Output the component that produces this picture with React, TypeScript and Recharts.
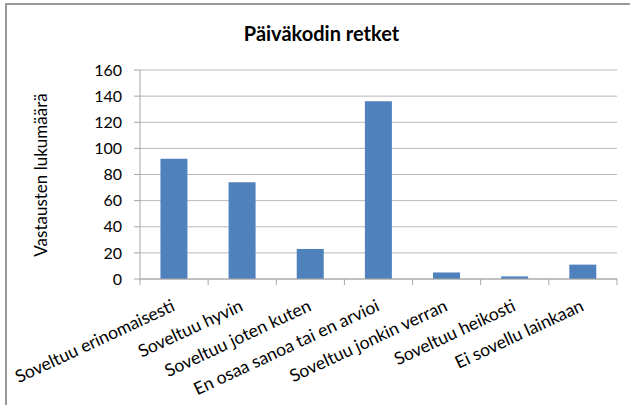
import React from "react";
import { BarChart, Bar, XAxis, YAxis, CartesianGrid } from "recharts";

const categories = [
  "Soveltuu erinomaisesti",
  "Soveltuu hyvin",
  "Soveltuu joten kuten",
  "En osaa sanoa tai en arvioi",
  "Soveltuu jonkin verran",
  "Soveltuu heikosti",
  "Ei sovellu lainkaan",
];
const counts = [92, 74, 23, 136, 5, 2, 11];
const yTicks = [0, 20, 40, 60, 80, 100, 120, 140, 160];
const title = "Päiväkodin retket";
const yLabel = "Vastausten lukumäärä";

const data = categories.map((name, i) => ({ name, value: counts[i] }));

const FONT = "Lato, 'Open Sans', sans-serif";
const AXIS_COLOR = "#a6a6a6";
const TICK_SIZE = 6;

const XTick = (props: any) => {
  const { x, y, payload, index, width, visibleTicksCount } = props;
  const half =
    payload && typeof payload.offset === "number" && payload.offset > 0
      ? payload.offset
      : width / visibleTicksCount / 2;
  const axisY = y - TICK_SIZE;
  const tx = x + 2;
  const ty = axisY + 31;
  return (
    <g>
      <line x1={x - half} x2={x - half} y1={axisY} y2={axisY + TICK_SIZE} stroke={AXIS_COLOR} />
      {index === visibleTicksCount - 1 && (
        <line x1={x + half} x2={x + half} y1={axisY} y2={axisY + TICK_SIZE} stroke={AXIS_COLOR} />
      )}
      <text
        x={tx}
        y={ty}
        textAnchor="end"
        fill="#000"
        fontSize={17.5}
        fontFamily={FONT}
        transform={`rotate(-25 ${tx} ${ty})`}
      >
        {payload.value}
      </text>
    </g>
  );
};

export default function App() {
  return (
    <div
      style={{
        position: "absolute",
        left: 0,
        top: 0,
        width: 630,
        height: 405,
        background: "#fff",
        overflow: "hidden",
        fontFamily: FONT,
      }}
    >
      <div
        style={{
          position: "absolute",
          left: 5,
          top: 3,
          width: 700,
          height: 500,
          borderTop: "2px solid #999",
          borderLeft: "2px solid #999",
          boxSizing: "border-box",
        }}
      />
      <div
        style={{
          position: "absolute",
          left: 0,
          top: 19,
          width: 643,
          textAlign: "center",
          fontSize: 20,
          fontWeight: 700,
          color: "#000",
          lineHeight: "28px",
        }}
      >
        {title}
      </div>
      <div
        style={{
          position: "absolute",
          left: 41,
          top: 175,
          transform: "translate(-50%, -50%) rotate(-90deg)",
          whiteSpace: "nowrap",
          fontSize: 17,
          color: "#000",
          lineHeight: "22px",
        }}
      >
        {yLabel}
      </div>
      <div style={{ position: "absolute", left: 0, top: 0 }}>
        <BarChart
          width={630}
          height={405}
          data={data}
          margin={{ top: 70, right: 13, bottom: 0, left: 0 }}
          barCategoryGap="30%"
        >
          <CartesianGrid vertical={false} stroke="#b8b8b8" />
          <XAxis
            dataKey="name"
            height={126}
            interval={0}
            tickLine={false}
            tickSize={TICK_SIZE}
            tickMargin={0}
            axisLine={{ stroke: AXIS_COLOR }}
            tick={<XTick />}
          />
          <YAxis
            width={140}
            domain={[0, 160]}
            ticks={yTicks}
            interval={0}
            tickSize={6}
            tickMargin={12}
            tickLine={{ stroke: AXIS_COLOR }}
            axisLine={{ stroke: AXIS_COLOR }}
            tick={{ fill: "#000", fontSize: 16, fontFamily: FONT }}
          />
          <Bar dataKey="value" fill="#4f81bd" isAnimationActive={false} />
        </BarChart>
      </div>
    </div>
  );
}
